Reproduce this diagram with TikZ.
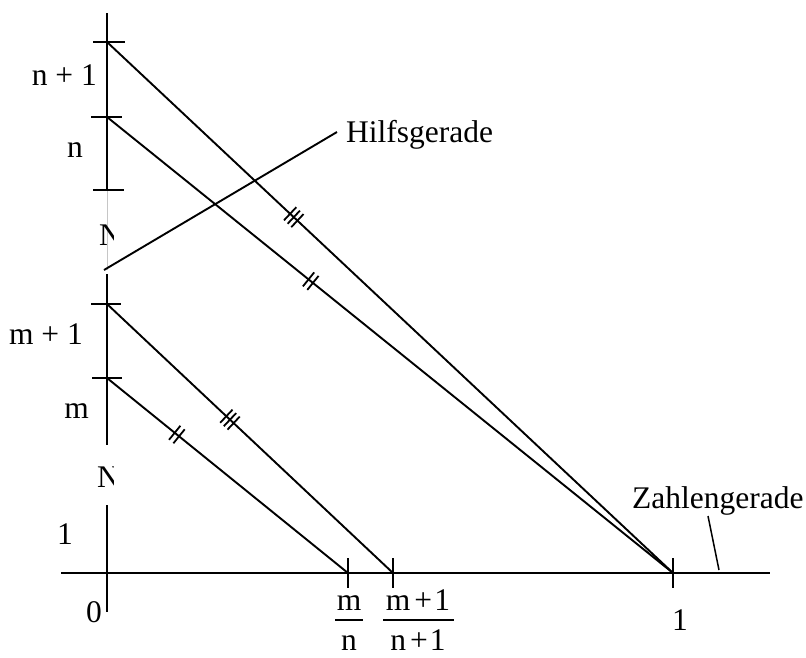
\documentclass[tikz,border=0pt]{standalone}
\usepackage{fontspec}
\setmainfont{Liberation Serif}
\usetikzlibrary{decorations.markings}
\tikzset{
  ln/.style={line width=1.9pt},
  lbl/.style={inner sep=0pt, font=\fontsize{31.5}{36}\selectfont},
  two/.style={postaction={decorate}, decoration={markings, mark=at position #1 with {
      \draw[line width=1.8pt] (-2.8pt,-9pt)--(-2.8pt,9pt) (2.8pt,-9pt)--(2.8pt,9pt);}}},
  three/.style={postaction={decorate}, decoration={markings, mark=at position #1 with {
      \draw[line width=1.8pt] (-5pt,-9pt)--(-5pt,9pt) (0pt,-9pt)--(0pt,9pt) (5pt,-9pt)--(5pt,9pt);}}}
}
\begin{document}
\begin{tikzpicture}[x=1pt,y=-1pt]
\useasboundingbox (0,0) rectangle (806,657);
% axis points
\coordinate (vtop) at (107,13);
\coordinate (A) at (107,42);
\coordinate (B) at (107,117);
\coordinate (C) at (107,190);
\coordinate (D) at (107,274);
\coordinate (E) at (107,304);
\coordinate (F) at (107,378);
\coordinate (G) at (107,445);
\coordinate (H) at (107,505);
\coordinate (vbot) at (107,612);
\coordinate (hl) at (61,573);
\coordinate (hr) at (770,573);
\coordinate (P) at (348,573);
\coordinate (Q) at (393,573);
\coordinate (R) at (673,573);
% vertical axis
\draw[ln] (vtop) -- (C);
\draw[line width=0.7pt, gray!45] (C) -- (107,270);
\draw[ln] (D) -- (G);
\draw[ln] (H) -- (vbot);
% ticks vertical
\draw[ln] (93,42) -- (125,42);
\draw[ln] (91,117) -- (122,117);
\draw[ln] (93,190) -- (124,190);
\draw[ln] (91,304) -- (121,304);
\draw[ln] (92,378) -- (122,378);
% horizontal axis
\draw[ln] (hl) -- (hr);
\draw[ln] (348,558) -- (348,588);
\draw[ln] (393,558) -- (393,588);
\draw[ln] (673,558) -- (673,588);
% connecting lines
\draw[ln, three=0.33] (A) -- (R);
\draw[ln, two=0.36] (B) -- (R);
\draw[ln, three=0.43] (E) -- (Q);
\draw[ln, two=0.29] (F) -- (P);
% Hilfsgerade
\coordinate (hs) at (104,270);
\coordinate (he) at (337,132);
\draw[ln] (hs) -- (he);
\node[lbl, anchor=base west] (hg) at (346,142) {Hilfsgerade};
% Zahlengerade
\node[lbl, anchor=base west] (zg) at (632,508) {Zahlengerade};
\coordinate (z1) at (708,516);
\coordinate (z2) at (719,570);
\draw[line width=1.5pt] (z1) -- (z2);
% axis labels
\node[lbl, anchor=base east] (lnp) at (97,85) {n + 1};
\node[lbl, anchor=base east] (lnn) at (83,157) {n};
\node[lbl, anchor=base east] (lmp) at (83,344) {m + 1};
\node[lbl, anchor=base east] (lmm) at (89,418) {m};
\node[lbl, anchor=base east] (l1) at (73,544) {1};
\node[lbl, anchor=base east] (l0) at (102,622) {0};
\node[lbl, anchor=base] (r1) at (680,630) {1};
% clipped N glyphs
\begin{scope}
\clip (90,200) rectangle (113.5,250);
\node[lbl, anchor=base west] (N1) at (99,245) {N};
\end{scope}
\begin{scope}
\clip (88,455) rectangle (113,495);
\node[lbl, anchor=base west] (N2) at (97,487) {N};
\end{scope}
% fractions
\node[lbl, anchor=base] (fm) at (349,610) {m};
\node[lbl, anchor=base] (fn) at (349,650) {n};
\draw[line width=1.4pt] (335,620) -- (363,620);
\node[lbl, anchor=base] (fm1) at (418,610) {m\hspace{4pt}+\hspace{2pt}1};
\node[lbl, anchor=base] (fn1) at (418,650) {n\hspace{4pt}+\hspace{2pt}1};
\draw[line width=1.4pt] (383,620) -- (454,620);
\end{tikzpicture}
\end{document}
